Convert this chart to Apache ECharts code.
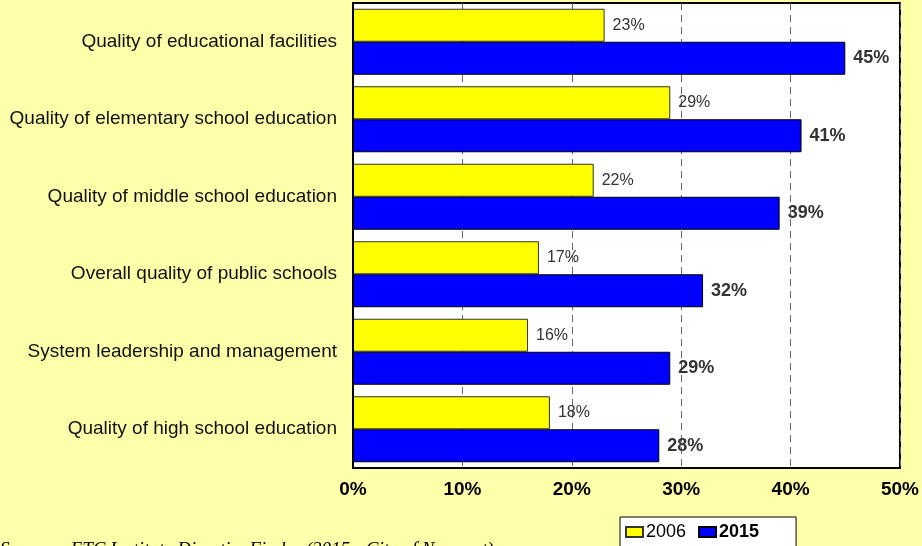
<!DOCTYPE html>
<html>
<head>
<meta charset="utf-8">
<script src="https://cdn.jsdelivr.net/npm/echarts@6/dist/echarts.min.js"></script>
<style>
  html, body { margin: 0; padding: 0; background: #FFFFAA; }
  #chart { width: 922px; height: 546px; }
</style>
</head>
<body>
<div id="chart"></div>
<script>
var categories = [
	'Quality of educational facilities',
	'Quality of elementary school education',
	'Quality of middle school education',
	'Overall quality of public schools',
	'System leadership and management',
	'Quality of high school education'
];
var values_2006 = [23, 29, 22, 17, 16, 18];
var values_2015 = [45, 41, 39, 32, 29, 28];
var x_ticks = [0, 10, 20, 30, 40, 50];

var myChart = echarts.init(document.getElementById('chart'));

myChart.setOption({
	backgroundColor: '#FFFFAA',
	animation: false,
	textStyle: { fontFamily: 'Liberation Sans, Arial, sans-serif' },
	grid: {
		left: 353, right: 20, top: 3, bottom: 78,
		show: true,
		backgroundColor: '#FFFFFF',
		borderColor: '#000000',
		borderWidth: 2
	},
	legend: {
		left: 620, top: 517,
		icon: 'rect',
		itemWidth: 17, itemHeight: 10, itemGap: 12,
		padding: [6, 37, 20, 5],
		backgroundColor: '#FFFFFF',
		borderColor: '#000000',
		borderWidth: 1,
		textStyle: { fontSize: 18, color: '#000', padding: [0, 0, 0, -2] },
		data: [
			{ name: '2006', textStyle: { fontWeight: 'normal' } },
			{ name: '2015', textStyle: { fontWeight: 'bold' } }
		]
	},
	xAxis: {
		type: 'value',
		min: 0, max: 50, interval: 10,
		axisLine: { show: true, lineStyle: { color: '#000', width: 2 } },
		axisTick: { show: false },
		axisLabel: {
			fontSize: 19, fontWeight: 'bold', color: '#000', margin: 12,
			formatter: function (v) { return x_ticks.indexOf(v) >= 0 ? v + '%' : ''; }
		},
		splitLine: { show: true, lineStyle: { color: '#666', type: [7, 5], width: 1 } }
	},
	yAxis: {
		type: 'category',
		inverse: true,
		data: categories,
		z: 5,
		axisLine: { show: true, lineStyle: { color: '#000', width: 2 } },
		axisTick: { show: false },
		axisLabel: { fontSize: 19, color: '#111', margin: 16 }
	},
	series: [
		{
			name: '2006',
			type: 'bar',
			data: values_2006,
			barWidth: 33,
			barGap: '0%',
			itemStyle: { color: '#FFFF00', borderColor: '#333', borderWidth: 1 },
			label: {
				show: true, position: 'right', distance: 8,
				fontSize: 16, color: '#333',
				formatter: '{c}%'
			}
		},
		{
			name: '2015',
			type: 'bar',
			data: values_2015,
			barWidth: 33,
			itemStyle: { color: '#0000FF', borderColor: '#000', borderWidth: 1 },
			label: {
				show: true, position: 'right', distance: 8,
				fontSize: 18, fontWeight: 'bold', color: '#333',
				formatter: '{c}%'
			}
		}
	],
	graphic: [{
		type: 'text',
		left: 0, top: 540,
		style: {
			text: 'Sources: ETC Institute DirectionFinder (2015 - City of Newport)',
			font: 'italic 19px "Liberation Serif", "Times New Roman", serif',
			fill: '#000'
		}
	}]
});
</script>
</body>
</html>
